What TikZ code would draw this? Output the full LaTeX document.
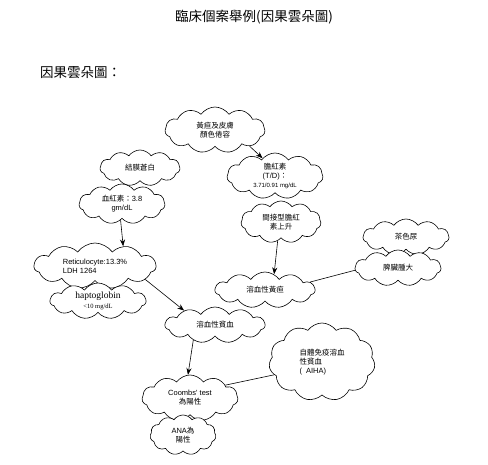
\documentclass[tikz,border=0pt]{standalone}
\usepackage{fontspec}
\setmainfont{Noto Sans CJK TC}
\newfontfamily\serifen{Liberation Serif}
\newfontfamily\latin{Liberation Sans}
\usetikzlibrary{arrows.meta,shapes.symbols}
\tikzset{
  >={Stealth[length=2.4mm,width=1.8mm]},
  cloudnode/.style={cloud,cloud puffs=11,cloud puff arc=110,cloud ignores aspect,
                    draw=black,line width=0.6pt,fill=white,align=center,
                    font=\fontsize{7.5}{9}\selectfont,inner sep=0pt},
  heading/.style ={font=\fontsize{13.5}{16}\selectfont,inner sep=0pt},
  flow/.style    ={->,draw=black,line width=0.6pt},
  link/.style    ={draw=black,line width=0.6pt},
}
\begin{document}
\begin{tikzpicture}[x=1pt,y=-1pt]
\useasboundingbox (0,0) rectangle (488,465);
%---------------- headings
\node[heading] (title) at (254,17) {臨床個案舉例(因果雲朵圖)};
\node[heading,anchor=west] (sub) at (40,73) {因果雲朵圖：};
%---------------- clouds
\node[cloudnode,minimum width=100pt,minimum height=46pt] (skin) at (215,130) {黃疸及皮膚\\顏色倦容};
\node[cloudnode,minimum width=80pt,minimum height=36pt] (conj) at (140,168) {結膜蒼白};
\node[cloudnode,minimum width=86pt,minimum height=40pt] (hb) at (122,204) {血紅素：{\latin 3.8}\\{\latin gm/dL}};
\node[cloudnode,minimum width=96pt,minimum height=46pt] (bili) at (275,176) {膽紅素\\{\latin (T/D)}：\\{\latin\fontsize{6}{7}\selectfont 3.71/0.91 mg/dL}};
\node[cloudnode,minimum width=80pt,minimum height=42pt] (indir) at (281,222) {間接型膽紅\\素上升};
\node[cloudnode,minimum width=122pt,minimum height=46pt,align=left,font=\latin\fontsize{7.5}{9}\selectfont] (retic) at (95,266) {Reticulocyte:13.3\%\\LDH 1264};
\node[cloudnode,minimum width=96pt,minimum height=36pt,font=\serifen\fontsize{9.5}{10}\selectfont] (hapto) at (98,301) {haptoglobin\\{\fontsize{6.5}{8}\selectfont <10 mg/dL}};
\node[cloudnode,minimum width=100pt,minimum height=36pt] (jaund) at (265,290) {溶血性黃疸};
\node[cloudnode,minimum width=86pt,minimum height=36pt] (urine) at (406,237) {茶色尿};
\node[cloudnode,minimum width=86pt,minimum height=36pt] (spleen) at (398,268) {脾臟腫大};
\node[cloudnode,minimum width=100pt,minimum height=36pt] (anemia) at (215,325) {溶血性貧血};
\node[cloudnode,minimum width=106pt,minimum height=78pt,align=left] (aiha) at (322,362) {自體免疫溶血\\性貧血\\{\latin (\ \ AIHA)}};
\node[cloudnode,minimum width=96pt,minimum height=46pt] (coombs) at (190,398) {{\latin Coombs' test}\\為陽性};
\node[cloudnode,minimum width=66pt,minimum height=40pt] (ana) at (183,435) {{\latin ANA}為\\陽性};
%---------------- connectors
\draw[flow] (skin.-25) -- (bili.125);
\draw[flow] (hb.-95) -- (retic.35);
\draw[flow] (indir.-100) -- (jaund.60);
\draw[link] (jaund.10) -- (spleen.183);
\draw[flow] (retic.-15) -- (anemia.155);
\draw[flow] (anemia.-145) -- (coombs.95);
\draw[link] (coombs.20) -- (aiha.195);
\end{tikzpicture}
\end{document}
